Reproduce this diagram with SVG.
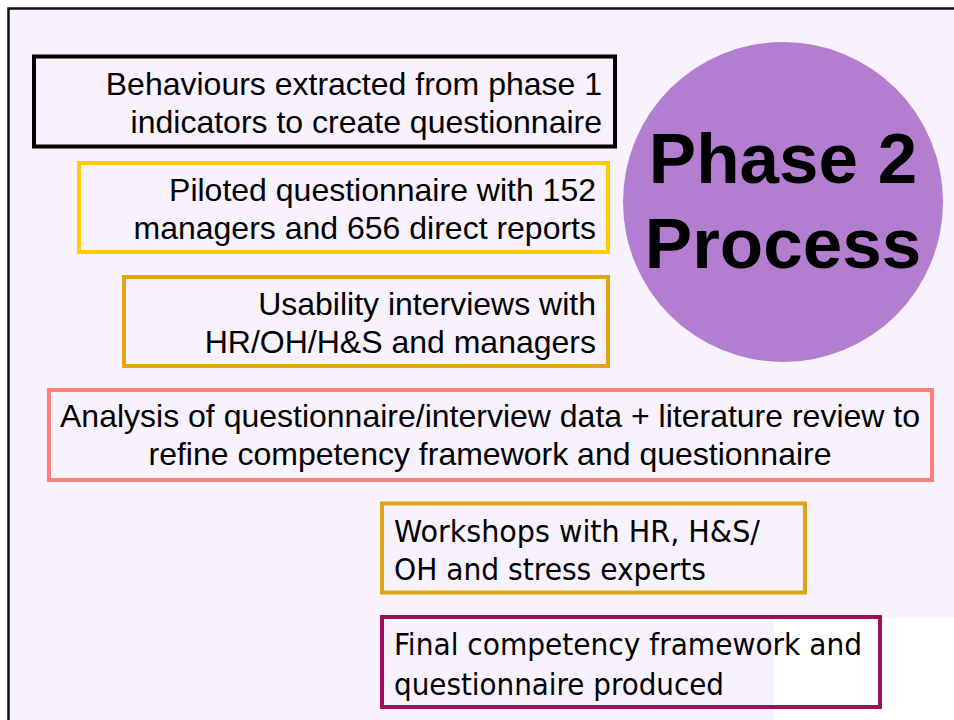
<svg xmlns="http://www.w3.org/2000/svg" width="954" height="720" viewBox="0 0 954 720">
  <style>
    .step { fill: none; stroke-width: 4; }
    .arial { font-family: "Liberation Sans", Arial, sans-serif; font-size: 32px; fill: #000; }
    .tah { font-family: "DejaVu Sans Condensed", "DejaVu Sans", sans-serif; font-stretch: condensed; font-size: 31px; fill: #000; }
    .title { font-family: "Liberation Sans", Arial, sans-serif; font-size: 71px; font-weight: bold; fill: #000; text-anchor: middle; }
  </style>
  <!-- slide page -->
  <rect x="0" y="0" width="954" height="720" fill="#ffffff"/>
  <rect x="8" y="8" width="946" height="712" fill="#F7F2FE"/>
  <rect x="774" y="617" width="180" height="103" fill="#ffffff"/>
  <path d="M8.5 720 V8.5 H954" fill="none" stroke="#111" stroke-width="2.5"/>

  <g id="title">
    <circle cx="783" cy="202" r="160" fill="#B37DD0"/>
    <text class="title" x="783" y="183">Phase 2</text>
    <text class="title" x="783" y="268">Process</text>
  </g>

  <g id="step1">
    <rect class="step" x="34" y="56.5" width="581" height="90" stroke="#000"/>
    <text class="arial" text-anchor="end" x="602" y="95">Behaviours extracted from phase 1</text>
    <text class="arial" text-anchor="end" x="602" y="133">indicators to create questionnaire</text>
  </g>

  <g id="step2">
    <rect class="step" x="79" y="163" width="529" height="89" stroke="#FFCC00"/>
    <text class="arial" text-anchor="end" x="596" y="201">Piloted questionnaire with 152</text>
    <text class="arial" text-anchor="end" x="596" y="239">managers and 656 direct reports</text>
  </g>

  <g id="step3">
    <rect class="step" x="124" y="277" width="484" height="89" stroke="#E0A514"/>
    <text class="arial" text-anchor="end" x="596" y="315">Usability interviews with</text>
    <text class="arial" text-anchor="end" x="596" y="353">HR/OH/H&amp;S and managers</text>
  </g>

  <g id="step4">
    <rect class="step" x="49" y="390" width="883" height="90" stroke="#FF7F7F"/>
    <text class="arial" text-anchor="middle" x="490" y="427">Analysis of questionnaire/interview data + literature review to</text>
    <text class="arial" text-anchor="middle" x="490" y="465">refine competency framework and questionnaire</text>
  </g>

  <g id="step5">
    <rect class="step" x="382" y="503.5" width="423" height="89" stroke="#E0A514"/>
    <text class="tah" x="394" y="542" textLength="366" lengthAdjust="spacingAndGlyphs">Workshops with HR, H&amp;S/</text>
    <text class="tah" x="394" y="580" textLength="312" lengthAdjust="spacingAndGlyphs">OH and stress experts</text>
  </g>

  <g id="step6">
    <rect class="step" x="382" y="617" width="498" height="90" stroke="#A0105A"/>
    <text class="tah" x="394" y="655" textLength="468" lengthAdjust="spacingAndGlyphs">Final competency framework and</text>
    <text class="tah" x="394" y="695" textLength="330" lengthAdjust="spacingAndGlyphs">questionnaire produced</text>
  </g>

  <g id="connectors"></g>
</svg>
